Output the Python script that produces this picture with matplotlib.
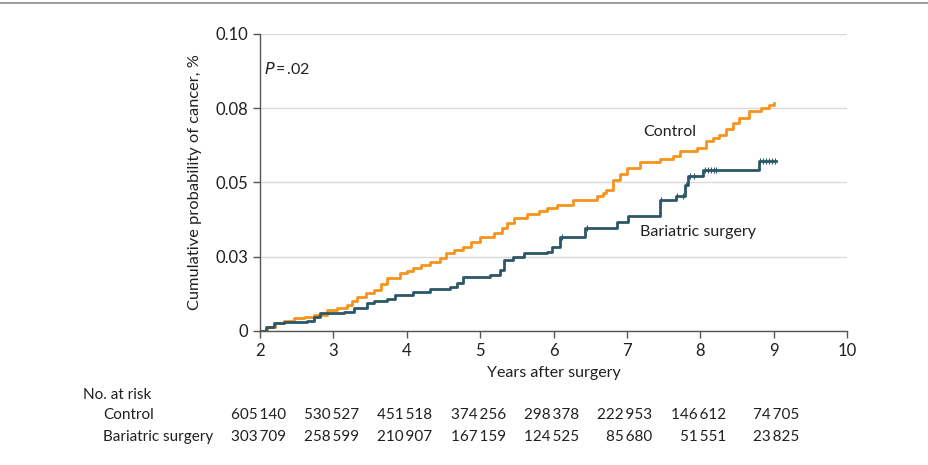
import numpy as np
import matplotlib
matplotlib.use("Agg")
import matplotlib.pyplot as plt
from matplotlib.lines import Line2D

plt.rcParams['font.family'] = ['Lato', 'DejaVu Sans']

# cumulative incidence (year of step, level after step)
control_years = [2.03, 2.10, 2.20, 2.33, 2.46, 2.60, 2.73, 2.91, 3.05, 3.19, 3.25, 3.32,
                 3.45, 3.55, 3.65, 3.73, 3.91, 4.00, 4.09, 4.20, 4.32, 4.45, 4.54, 4.65,
                 4.77, 4.88, 5.00, 5.19, 5.30, 5.37, 5.46, 5.64, 5.80, 5.91, 6.05, 6.27,
                 6.59, 6.67, 6.72, 6.81, 6.90, 7.00, 7.18, 7.45, 7.63, 7.72, 7.95, 8.08,
                 8.17, 8.26, 8.35, 8.45, 8.53, 8.67, 8.83, 8.94, 9.00]
control_prob = [0.0, 0.0015, 0.0026, 0.0035, 0.0043, 0.0048, 0.0054, 0.0071, 0.0078, 0.0088,
                0.0100, 0.0116, 0.0127, 0.0138, 0.0158, 0.0177, 0.0194, 0.0202, 0.0211,
                0.0222, 0.0233, 0.0247, 0.0261, 0.0272, 0.0284, 0.0300, 0.0318, 0.0331,
                0.0347, 0.0363, 0.0379, 0.0394, 0.0403, 0.0413, 0.0425, 0.0441, 0.0453,
                0.0465, 0.0475, 0.0509, 0.0530, 0.0548, 0.0568, 0.0580, 0.0588, 0.0605,
                0.0616, 0.0639, 0.0650, 0.0661, 0.0680, 0.0700, 0.0717, 0.0740, 0.0751,
                0.0762, 0.0766]

bariatric_years = [2.01, 2.08, 2.19, 2.33, 2.64, 2.73, 2.82, 3.14, 3.28, 3.46, 3.55, 3.73,
                   3.84, 4.09, 4.32, 4.59, 4.68, 4.77, 5.13, 5.27, 5.33, 5.45, 5.60, 5.91,
                   5.98, 6.09, 6.43, 6.86, 7.02, 7.45, 7.67, 7.79, 7.83, 8.04, 8.80, 9.03]
bariatric_prob = [0.0, 0.0015, 0.0026, 0.0031, 0.0034, 0.0048, 0.0059, 0.0065, 0.0076,
                  0.0093, 0.0101, 0.0107, 0.0121, 0.0132, 0.0140, 0.0149, 0.0160, 0.0183,
                  0.0189, 0.0205, 0.0239, 0.0250, 0.0262, 0.0265, 0.0284, 0.0318, 0.0346,
                  0.0368, 0.0387, 0.0441, 0.0455, 0.0492, 0.0523, 0.0543, 0.0574, 0.0574]

# censoring marks visible on the bariatric curve
bariatric_censor = [6.12, 6.45, 7.46, 7.68, 7.76, 7.81, 7.86, 7.92, 8.06, 8.10, 8.14, 8.18,
                    8.22, 8.82, 8.86, 8.90, 8.94, 8.98, 9.02]

risk_times = [2, 3, 4, 5, 6, 7, 8, 9]
risk_control = ["605\u2009140", "530\u2009527", "451\u2009518", "374\u2009256",
                "298\u2009378", "222\u2009953", "146\u2009612", "74\u2009705"]
risk_bariatric = ["303\u2009709", "258\u2009599", "210\u2009907", "167\u2009159",
                  "124\u2009525", "85\u2009680", "51\u2009551", "23\u2009825"]

yticks = [0, 0.025, 0.05, 0.075, 0.10]
ytick_labels = ["0", "0.03", "0.05", "0.08", "0.10"]

orange = "#F7941D"
teal = "#2C5766"
txt = "#231F20"

fig = plt.figure(figsize=(9.29, 4.65), dpi=100)
ax = fig.add_axes([0.2799, 0.2882, 0.6319, 0.6387])

ax.step(control_years, control_prob, where="post", color=orange, lw=2)
ax.step(bariatric_years, bariatric_prob, where="post", color=teal, lw=2)

# censor ticks placed on the step curve
idx = np.searchsorted(bariatric_years, bariatric_censor, side="right") - 1
cy = np.array(bariatric_prob)[idx]
ax.plot(bariatric_censor, cy, ls="none", marker="|", ms=4, mew=0.8, color=teal)

ax.set_xlim(2, 10)
ax.set_ylim(0, 0.10)
ax.set_xticks(range(2, 11))
ax.set_yticks(yticks)
ax.set_yticklabels(ytick_labels)
ax.tick_params(labelsize=12, colors=txt, length=5, width=1, color="#555555")
ax.grid(axis="y", color="#DADADA", lw=1)
ax.set_axisbelow(True)
for s in ["top", "right"]:
    ax.spines[s].set_visible(False)
for s in ["left", "bottom"]:
    ax.spines[s].set_color("#555555")
    ax.spines[s].set_linewidth(1)

ax.set_xlabel("Years after surgery", fontsize=11.5, color=txt, labelpad=5)
ax.set_ylabel("Cumulative probability of cancer, %", fontsize=11.8, color=txt, labelpad=10)

ax.text(2.05, 0.0882, "$\\it{P}$\u2009=\u2009.02", fontsize=11.5, color=txt, va="center")
ax.text(7.22, 0.067, "Control", fontsize=11.5, color=txt, va="center")
ax.text(7.18, 0.0333, "Bariatric surgery", fontsize=11.5, color=txt, va="center")

# number at risk table
trans = ax.get_xaxis_transform()
fig.text(83 / 929, 1 - 395 / 465, "No. at risk", fontsize=11, color=txt, va="center")
fig.text(103 / 929, 1 - 415 / 465, "Control", fontsize=11, color=txt, va="center")
fig.text(103 / 929, 1 - 437 / 465, "Bariatric surgery", fontsize=11, color=txt, va="center")
row1 = -(415 - 331) / 297
row2 = -(437 - 331) / 297
for t, a, b in zip(risk_times, risk_control, risk_bariatric):
    ax.text(t + 0.35, row1, a, transform=trans, ha="right", va="center",
            fontsize=11, color=txt, clip_on=False)
    ax.text(t + 0.35, row2, b, transform=trans, ha="right", va="center",
            fontsize=11, color=txt, clip_on=False)

fig.add_artist(Line2D([0, 1], [1 - 3 / 465, 1 - 3 / 465], color="#8C8C8C", lw=1.2,
                      transform=fig.transFigure))

fig.savefig("out.png", dpi=100)
